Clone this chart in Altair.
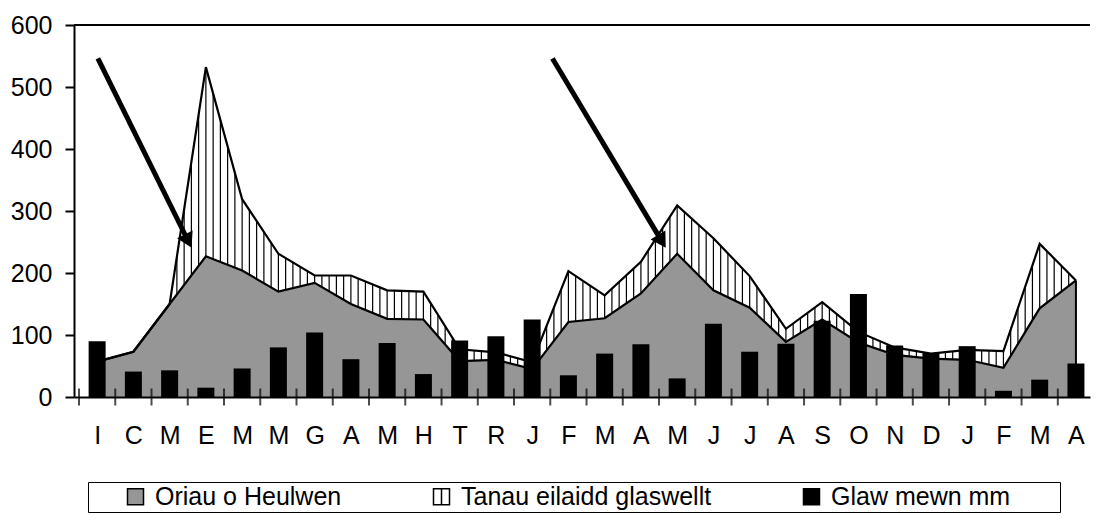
import math
import altair as alt
import pandas as pd

FONT = "Liberation Sans"

# ---- data ----
months = ["I", "C", "M", "E", "M", "M", "G", "A", "M", "H", "T", "R", "J", "F",
          "M", "A", "M", "J", "J", "A", "S", "O", "N", "D", "J", "F", "M", "A"]
oriau = [57, 73, 150, 227, 204, 170, 184, 150, 126, 125, 58, 60, 45, 121,
         127, 167, 231, 172, 144, 89, 125, 88, 68, 62, 60, 47, 143, 188]
tanau = [0, 0, 0, 305, 115, 61, 12, 46, 46, 45, 19, 12, 11, 82,
         37, 51, 78, 84, 51, 21, 28, 17, 12, 8, 16, 27, 104, 0]
glaw = [90, 41, 43, 15, 46, 80, 104, 61, 87, 37, 91, 98, 125, 35,
        70, 85, 30, 118, 73, 86, 123, 166, 83, 71, 82, 10, 28, 54]
series_names = ["Oriau o Heulwen", "Tanau eilaidd glaswellt", "Glaw mewn mm"]
series_colors = ["#969696", "#ffffff", "#000000"]
y_ticks = [0, 100, 200, 300, 400, 500, 600]
y_max = 600

# annotation arrows (start -> tip, in data units)
arrow_x1 = [0.02, 12.56]
arrow_y1 = [546, 546]
arrow_x2 = [2.61, 15.69]
arrow_y2 = [240, 240]

# ---- layout ----
N = len(months)
CAT_W = 36.6
X_MIN, X_MAX = -0.5, N - 0.75          # right edge cut like the reference crop
W = round((X_MAX - X_MIN) * CAT_W)
H = 372
PX_X = W / (X_MAX - X_MIN)
PX_Y = H / y_max

df = pd.DataFrame({
    "i": list(range(N)),
    "month": months,
    "oriau": oriau,
    "tanau": tanau,
    "glaw": glaw,
})
df["total"] = df["oriau"] + df["tanau"]

rows = []
for x1, y1, x2, y2 in zip(arrow_x1, arrow_y1, arrow_x2, arrow_y2):
    dxp = (x2 - x1) * PX_X
    dyp = -(y2 - y1) * PX_Y
    L = math.hypot(dxp, dyp)
    ux, uy = dxp / L, dyp / L
    ang = math.degrees(math.atan2(dxp, -dyp)) % 360
    rows.append({
        "x1": x1, "y1": y1,
        "xe": x2 - ux * 10 / PX_X, "ye": y2 + uy * 10 / PX_Y,
        "hx": x2 - ux * 8 / PX_X, "hy": y2 + uy * 8 / PX_Y,
        "ang": ang,
    })
adf = pd.DataFrame(rows)

xs = alt.Scale(domain=[X_MIN, X_MAX], nice=False, zero=False)
ys = alt.Scale(domain=[0, y_max], nice=False)

label_expr = "[" + ",".join("'%s'" % m for m in months) + "][datum.value]"
x_axis = alt.Axis(values=list(range(N)), labelExpr=label_expr, ticks=False, grid=False,
                  domainColor="black", domainWidth=2, labelFontSize=25, labelColor="black",
                  labelFont=FONT, labelPadding=26, labelFlush=False, labelOverlap=False,
                  zindex=1, title=None)
y_axis = alt.Axis(values=y_ticks, grid=False, domainColor="black", domainWidth=2,
                  tickColor="black", tickWidth=2, tickSize=9, labelFontSize=25,
                  labelColor="black", labelFont=FONT, labelPadding=13, zindex=1, title=None)

X = lambda f: alt.X(f, scale=xs, axis=x_axis)
Y = lambda f: alt.Y(f, scale=ys, axis=y_axis)

base = alt.Chart(df)

hatch = alt.Chart(alt.sequence(0.2, N - 1 - 0.1, 0.2, as_="hx")).mark_rule(
    color="black", strokeWidth=1.2).encode(x=X("hx:Q"))

white_area = base.mark_area(color="white", opacity=1).encode(
    x=X("i:Q"), y=Y("total:Q"), y2=alt.datum(y_max))

grey_area = base.mark_area(color="#969696", opacity=1).encode(x=X("i:Q"), y=Y("oriau:Q"))

total_line = base.mark_line(color="black", strokeWidth=2.2).encode(x=X("i:Q"), y=Y("total:Q"))
grey_line = base.mark_line(color="black", strokeWidth=2.2).encode(x=X("i:Q"), y=Y("oriau:Q"))

edge = base.transform_filter("datum.i == %d" % (N - 1)).mark_rule(
    color="black", strokeWidth=2).encode(x=X("i:Q"), y=Y("oriau:Q"), y2=alt.datum(0))

bars = base.mark_bar(color="black", size=17).encode(x=X("i:Q"), y=Y("glaw:Q"))

bticks = base.transform_calculate(b="datum.i - 0.5").mark_tick(
    orient="vertical", size=17, thickness=2, color="black").encode(x=X("b:Q"), y=alt.datum(0))

top_rule = alt.Chart(pd.DataFrame({"top": [y_max]})).mark_rule(
    color="black", strokeWidth=2).encode(y=Y("top:Q"))

shafts = alt.Chart(adf).mark_rule(color="black", strokeWidth=5).encode(
    x=X("x1:Q"), y=Y("y1:Q"), x2="xe:Q", y2="ye:Q")
heads = alt.Chart(adf).mark_point(shape="triangle-up", filled=True, size=300,
                                   color="black", opacity=1).encode(
    x=X("hx:Q"), y=Y("hy:Q"), angle=alt.Angle("ang:Q", scale=None))

HATCH_SYMBOL = "M-1,-1H1V1H-1ZM0,-1V1"
legend = alt.Legend(orient="none", legendX=14, legendY=457, direction="horizontal",
                    title="nnn", titleOrient="right", titleColor="white", titleFont=FONT,
                    titleFontSize=25, titlePadding=2,
                    labelFont=FONT, labelFontSize=25, labelColor="black",
                    labelLimit=700, symbolSize=256, symbolStrokeColor="black",
                    symbolStrokeWidth=1.5, strokeColor="black", padding=2,
                    symbolOffset=33, labelOffset=7, columnPadding=54)
legend_layer = alt.Chart(pd.DataFrame({"series": series_names})).transform_filter(
    "false").mark_point(filled=True, size=256, opacity=1).encode(
    color=alt.Color("series:N", scale=alt.Scale(domain=series_names, range=series_colors),
                    legend=legend),
    shape=alt.Shape("series:N", scale=alt.Scale(domain=series_names,
                                                range=["square", HATCH_SYMBOL, "square"]),
                    legend=legend),
)

chart = alt.layer(
    hatch, white_area, grey_area, total_line, grey_line, edge, bars, bticks,
    top_rule, shafts, heads, legend_layer
).properties(
    width=W, height=H,
    padding={"left": 2, "top": 5, "right": 0, "bottom": 0},
    background="white",
).configure_view(stroke=None)

chart.save("out.html", embed_options={"renderer": "svg", "actions": False})
